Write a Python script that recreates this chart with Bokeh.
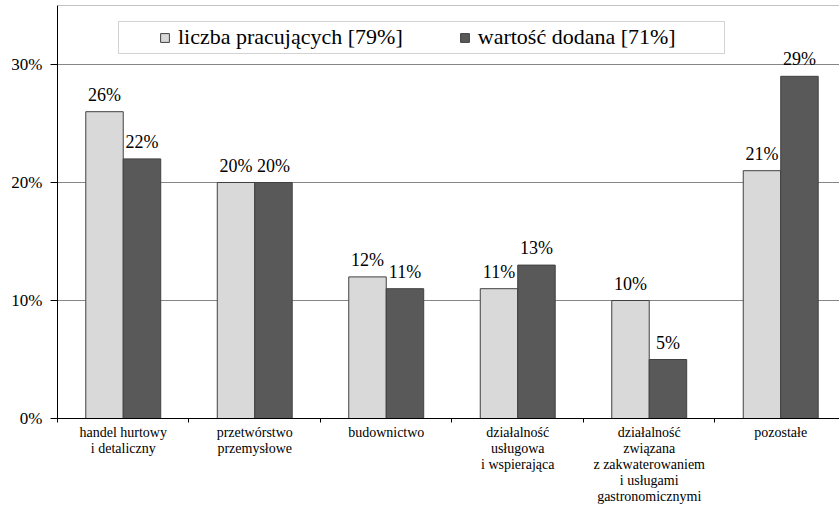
import numpy as np
from bokeh.plotting import figure
from bokeh.models import (ColumnDataSource, FixedTicker, Legend, LegendItem, LabelSet,
                          Span, BoxAnnotation, PrintfTickFormatter)
from bokeh.embed import file_html
from bokeh.resources import INLINE

# ---- data ----
categories = [
    "handel hurtowy\ni detaliczny",
    "przetwórstwo\nprzemysłowe",
    "budownictwo",
    "działalność\nusługowa\ni wspierająca",
    "działalność\nzwiązana\nz zakwaterowaniem\ni usługami\ngastronomicznymi",
    "pozostałe",
]
series_names = ["liczba pracujących [79%]", "wartość dodana [71%]"]
employed = [26, 20, 12, 11, 10, 21]
value_added = [22, 20, 11, 13, 5, 29]
y_ticks = [0, 10, 20, 30]

FONT = "Liberation Serif"
LIGHT = "#d9d9d9"
DARK = "#595959"
GRID = "#868686"

n = len(categories)
centers = np.arange(n) + 0.5
bounds = list(np.arange(n + 1).astype(float))
bw = 0.285
off = bw / 2

src = ColumnDataSource(dict(
    x1=centers - off, x2=centers + off,
    v1=employed, v2=value_added,
    l1=[f"{v}%" for v in employed], l2=[f"{v}%" for v in value_added],
))

p = figure(width=839, height=510, x_range=(0, 5.947), y_range=(0, 35.0),
           output_backend="svg", toolbar_location=None,
           min_border_left=57, min_border_right=0, min_border_top=5, min_border_bottom=92)
p.outline_line_color = None
p.background_fill_color = "white"

r1 = p.vbar(x="x1", top="v1", width=bw, source=src, fill_color=LIGHT, line_color="#404040", line_width=1)
r2 = p.vbar(x="x2", top="v2", width=bw, source=src, fill_color=DARK, line_color="#404040", line_width=1)

p.xgrid.visible = False
p.ygrid.ticker = FixedTicker(ticks=y_ticks)
p.ygrid.grid_line_color = GRID

ya = p.yaxis[0]
ya.ticker = FixedTicker(ticks=y_ticks)
ya.formatter = PrintfTickFormatter(format="%d%%")
ya.major_label_text_font = FONT
ya.major_label_text_font_size = "17px"
ya.major_label_text_color = "black"
ya.major_tick_out = 7
ya.major_tick_in = 0
ya.minor_tick_line_color = None
ya.major_label_standoff = 8
ya.axis_line_color = "black"
ya.major_tick_line_color = "black"

xa = p.xaxis[0]
xa.ticker = FixedTicker(ticks=list(centers), minor_ticks=bounds)
xa.major_label_overrides = {float(c): lab for c, lab in zip(centers, categories)}
xa.major_label_text_font = FONT
xa.major_label_text_font_size = "14px"
xa.major_label_text_line_height = 1.08
xa.major_label_text_color = "black"
xa.major_tick_out = 0
xa.major_tick_in = 0
xa.minor_tick_out = 4
xa.minor_tick_in = 0
xa.minor_tick_line_color = "black"
xa.major_label_standoff = 2
xa.axis_line_color = "black"

# top border of the plot area
p.add_layout(Span(location=35.0, dimension="width", line_color=GRID, line_width=1))

# value labels above bars
for xs, ys, ls in (("x1", "v1", "l1"), ("x2", "v2", "l2")):
    p.add_layout(LabelSet(x=xs, y=ys, text=ls, source=src, text_align="center",
                          text_baseline="alphabetic", y_offset=11,
                          text_font=FONT, text_font_size="18px", text_color="black"))

# legend frame
p.add_layout(BoxAnnotation(left=61, right=667, bottom=365, top=397,
                           left_units="screen", right_units="screen",
                           bottom_units="screen", top_units="screen",
                           fill_color="white", fill_alpha=1.0,
                           line_color="#6e6e6e", line_width=1))

legend = Legend(items=[LegendItem(label=series_names[0], renderers=[r1]),
                       LegendItem(label=series_names[1], renderers=[r2])],
                orientation="horizontal", location=(102, 368),
                glyph_width=11, glyph_height=11, label_standoff=8, spacing=56,
                padding=0, margin=0, border_line_color=None, background_fill_alpha=0,
                label_text_font=FONT, label_text_font_size="22px", label_text_color="black")
p.add_layout(legend)

open("out.html", "w").write(file_html(p, INLINE))
